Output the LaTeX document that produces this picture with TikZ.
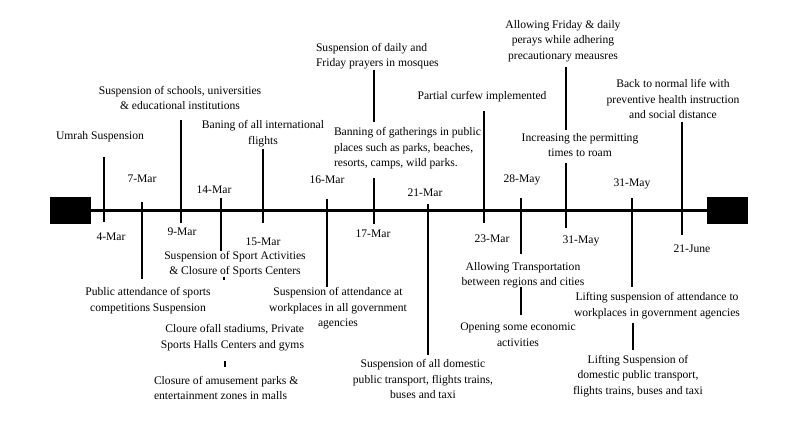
\documentclass[tikz,border=0pt]{standalone}
\usepackage{fontspec}
\setmainfont{Liberation Serif}
\begin{document}
\begin{tikzpicture}[x=1pt,y=-1pt,
  every node/.style={inner sep=0pt,outer sep=0pt},
  txt/.style={font=\fontsize{11.6}{15.5}\selectfont,align=center},
  txtl/.style={font=\fontsize{11.6}{15.5}\selectfont,align=left,anchor=west},
  txtr/.style={font=\fontsize{11.6}{15.5}\selectfont,align=right},
  tick/.style={line width=2.6pt},
  endbox/.style={fill=black,draw=none}]
\useasboundingbox (0,0) rectangle (800,425);
% end boxes
\node[endbox,minimum width=41pt,minimum height=27pt] (L) at (70.5,210.5) {};
\node[endbox,minimum width=41pt,minimum height=27pt] (R) at (727.5,210.5) {};
\draw[tick] (L.east) -- (R.west);
% tick coordinates
\foreach \n/\x/\a/\b in {1/104/157/222,2/142/202/279,3/181/120/223,4/221/198/251,5/263/149/223,6/327/199/287,7/374/178/224,8/428/204/355,9/484/111/223,10/521/198/254,11/566/163/228,12/632/198/287,13/682/122/235}{
  \coordinate (t\n) at (\x,\a);
  \coordinate (b\n) at (\x,\b);
  \draw[tick] (t\n) -- (b\n);
}
% extra segments
\coordinate (u7a) at (374,70); \coordinate (u7b) at (374,122);
\draw[tick] (u7a) -- (u7b);
\coordinate (u11a) at (566,67); \coordinate (u11b) at (566,130);
\draw[tick] (u11a) -- (u11b);
\coordinate (d10a) at (521,287); \coordinate (d10b) at (521,315);
\draw[tick] (d10a) -- (d10b);
\coordinate (d12a) at (633,323); \coordinate (d12b) at (633,350);
\draw[tick] (d12a) -- (d12b);
\coordinate (m1a) at (224,277); \coordinate (m1b) at (224,280);
\draw[line width=1.5pt] (m1a) -- (m1b);
\coordinate (m2a) at (225,361); \coordinate (m2b) at (225,367);
\draw[line width=2pt] (m2a) -- (m2b);
% dates
\node[txt] (d1) at (111,237) {4-Mar};
\node[txt] (d2) at (142,179) {7-Mar};
\node[txt] (d3) at (182,232) {9-Mar};
\node[txt] (d4) at (214,190) {14-Mar};
\node[txt] (d5) at (263,242) {15-Mar};
\node[txt] (d6) at (327,180) {16-Mar};
\node[txt] (d7) at (373,234) {17-Mar};
\node[txt] (d8) at (425,193) {21-Mar};
\node[txt] (d9) at (492,239) {23-Mar};
\node[txt] (d10) at (522,180) {28-May};
\node[txt] (d11) at (581,241) {31-May};
\node[txt] (d12) at (632,184) {31-May};
\node[txt] (d13) at (692,249) {21-June};
% events
\node[txt] (e1) at (100,137) {Umrah Suspension};
\node[txt] (e2) at (148,300.5) {Public attendance of sports\\competitions Suspension};
\node[txt] (e3) at (180,98) {Suspension of schools, universities\\\& educational institutions};
\node[txt] (e4) at (235,264) {Suspension of Sport Activities\\\& Closure of Sports Centers};
\node[txtr] (e4b) at (232.5,337.5) {Cloure ofall stadiums, Private\\Sports Halls Centers and gyms};
\node[txtl] (e4c) at (154,388) {Closure of amusement parks \&\\entertainment zones in malls};
\node[txt] (e5) at (263,133.5) {Baning of all international\\flights};
\node[txt] (e6) at (338,308.5) {Suspension of attendance at\\workplaces in all government\\agencies};
\node[txtl] (e7) at (334,148.5) {Banning of gatherings in public\\places such as parks, beaches,\\resorts, camps, wild parks.};
\node[txtl] (e7b) at (316,56) {Suspension of daily and\\Friday prayers in mosques};
\node[txt] (e8) at (423,379) {Suspension of all domestic\\public transport, flights trains,\\buses and taxi};
\node[txt] (e9) at (482,97) {Partial curfew implemented};
\node[txt] (e10) at (523,275) {Allowing Transportation\\between regions and cities};
\node[txt] (e10b) at (518,334.5) {Opening some economic\\activities};
\node[txt] (e11) at (580,145) {Increasing the permitting\\times to roam};
\node[txt] (e11b) at (563,41) {Allowing Friday \& daily\\perays while adhering\\precautionary meausres};
\node[txt] (e12) at (657,305.5) {Lifting suspension of attendance to\\workplaces in government agencies};
\node[txt] (e12b) at (638,376) {Lifting Suspension of\\domestic public transport,\\flights trains, buses and taxi};
\node[txt] (e13) at (673,99) {Back to normal life with\\preventive health instruction\\and social distance};
\end{tikzpicture}
\end{document}
